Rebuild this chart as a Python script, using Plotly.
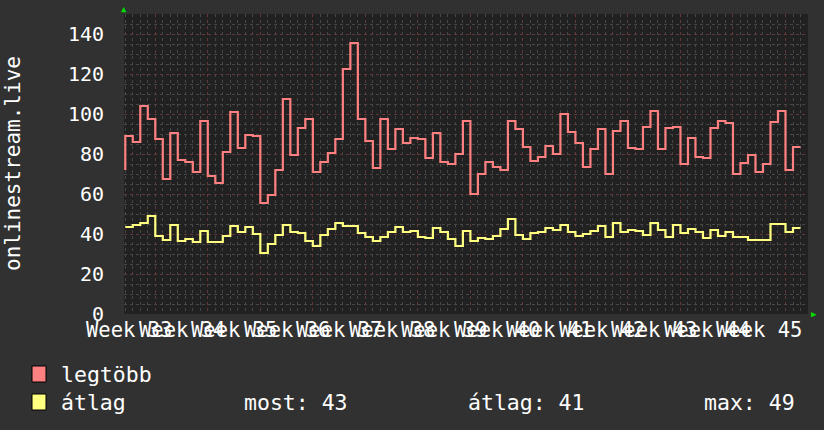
import numpy as np
import plotly.graph_objects as go

# daily values, one step per day
legtobb = [89, 86, 104, 97.5, 87.5, 67.5, 90.5, 77, 76, 71, 96.5, 69, 65.5, 81, 101, 83,
           89.5, 89, 55.5, 59.5, 72, 107.5, 79.5, 93, 97.5, 71, 76, 80.5, 87.5, 122.5, 135.5,
           97.5, 86.5, 73, 97.5, 82.5, 92.5, 85.5, 88, 87.5, 78, 90.5, 76, 75, 80, 96.5,
           60, 70, 76, 73.5, 72, 96.5, 92.5, 83.5, 76.5, 78.5, 84, 80, 100, 91, 85.5, 73.5,
           82.5, 92.5, 70, 91.5, 96.5, 83, 82.5, 93.5, 101.5, 82.5, 93, 93.5, 75, 88, 78.5,
           78, 93, 96.5, 95.5, 70, 75.5, 79.5, 71, 75, 96, 101.5, 72, 83.5]
legtobb_prev = 72

atlag = [43.5, 44.5, 45.5, 49, 39, 37, 44.5, 36.5, 37.5, 36, 41.5, 36, 36, 39, 44, 41,
         43.5, 40, 30.5, 35, 39.5, 44.5, 41, 40.5, 36.5, 34, 39.5, 42.5, 45.5, 44, 44,
         40.5, 38.5, 36.5, 38.5, 41, 43.5, 41, 41.5, 38.5, 38, 43, 41, 37.5, 34, 41.5,
         36.5, 38, 37.5, 39, 42.5, 47.5, 39.5, 37.5, 40.5, 41, 43, 42, 44.5, 41, 39, 40,
         41.5, 44, 38.5, 45.5, 41, 42, 41.5, 39.5, 45.5, 42, 38.5, 44.5, 40.5, 42.5, 41,
         38, 42, 39, 41, 38.5, 38.5, 37, 37, 37, 45, 45, 41, 43]

week_labels = ['Week %d' % w for w in range(33, 46)]
first_week_day = 4   # day index where the first full week begins
stats = {'most': 43, 'átlag': 41, 'max': 49}

RED = '#ff8080'
YEL = '#ffff80'
FONT = 'DejaVu Sans Mono'


def step_xy(vals, prev):
    n = len(vals)
    x = np.concatenate([[0], np.arange(n + 1)])
    y = [prev] + list(vals) + [vals[-1]]
    return x, y


fig = go.Figure()
x, y = step_xy(legtobb, legtobb_prev)
fig.add_trace(go.Scatter(x=x, y=y, mode='lines', line=dict(color=RED, width=2.2, shape='hv'),
                         name='legtöbb', hoverinfo='skip'))
x, y = step_xy(atlag, atlag[0])
fig.add_trace(go.Scatter(x=x, y=y, mode='lines', line=dict(color=YEL, width=2.2, shape='hv'),
                         name='átlag', hoverinfo='skip'))

week_lines = [first_week_day + 7 * i for i in range(len(week_labels))]
label_pos = [w - 3.5 for w in week_lines]

fig.update_layout(
    width=824, height=430,
    margin=dict(l=124, r=16, t=14, b=116),
    paper_bgcolor='#313131',
    plot_bgcolor='#212121',
    showlegend=False,
    font=dict(family=FONT, color='white', size=20),
    xaxis=dict(
        range=[-0.17, 91.0], tickmode='array', tickvals=week_lines, showticklabels=False,
        showgrid=True, gridcolor='#633838', griddash='dot', gridwidth=1,
        zeroline=False, showline=False, ticks='',
        minor=dict(dtick=1, tick0=0, showgrid=True, gridcolor='#474747', griddash='dot'),
    ),
    yaxis=dict(
        range=[0, 150], tickmode='linear', tick0=0, dtick=20,
        showgrid=True, gridcolor='#633838', griddash='dot',
        zeroline=False, showline=False, ticks='outside', ticklen=15, tickcolor='#313131',
        tickfont=dict(family=FONT, size=20, color='white'),
        minor=dict(dtick=5, showgrid=True, gridcolor='#474747', griddash='dot'),
    ),
)

ann = [
    dict(text='onlinestream.live', xref='paper', yref='paper', x=0, y=0.5, xshift=-111,
         xanchor='center', yanchor='middle', textangle=-90, showarrow=False,
         font=dict(family=FONT, size=21, color='white')),
    dict(text='▲', xref='paper', yref='paper', x=0, y=1, yshift=5, xanchor='center',
         yanchor='middle', showarrow=False, font=dict(size=9, color='#00dd00')),
    dict(text='▶', xref='paper', yref='paper', x=1, y=0, xshift=6, xanchor='center',
         yanchor='middle', showarrow=False, font=dict(size=9, color='#00dd00')),
    dict(text='legtöbb', xref='paper', yref='paper', x=0, y=0, xshift=-65, yshift=-60,
         xanchor='left', yanchor='middle', showarrow=False,
         font=dict(family=FONT, size=21.5, color='white')),
    dict(text='átlag', xref='paper', yref='paper', x=0, y=0, xshift=-65, yshift=-88,
         xanchor='left', yanchor='middle', showarrow=False,
         font=dict(family=FONT, size=21.5, color='white')),
]
stat_x = [242, 466, 702]
for (k, v), sx in zip(stats.items(), stat_x):
    ann.append(dict(text='%s: %d' % (k, v), xref='paper', yref='paper', x=0, y=0,
                    xshift=sx - 124, yshift=-88, xanchor='left', yanchor='middle',
                    showarrow=False, font=dict(family=FONT, size=21.5, color='white')))
# week labels on the x axis (they overlap in the original too)
for pos, lab in zip(label_pos, week_labels):
    ann.append(dict(text=lab, xref='x', yref='paper', x=pos, y=0, yshift=-16,
                    xanchor='center', yanchor='middle', showarrow=False,
                    font=dict(family=FONT, size=20.5, color='white')))
fig.update_layout(annotations=ann)

# legend colour boxes
for col, top in [(RED, 366), (YEL, 394)]:
    fig.add_shape(type='rect', xref='paper', yref='paper',
                  x0=(32 - 124) / 684, x1=(46 - 124) / 684,
                  y0=(314 - top) / 300, y1=(314 - top - 16) / 300,
                  fillcolor=col, line=dict(color='black', width=1))

fig.write_html('out.html', config={'displayModeBar': False},
               post_script="document.body.style.margin='0';")
